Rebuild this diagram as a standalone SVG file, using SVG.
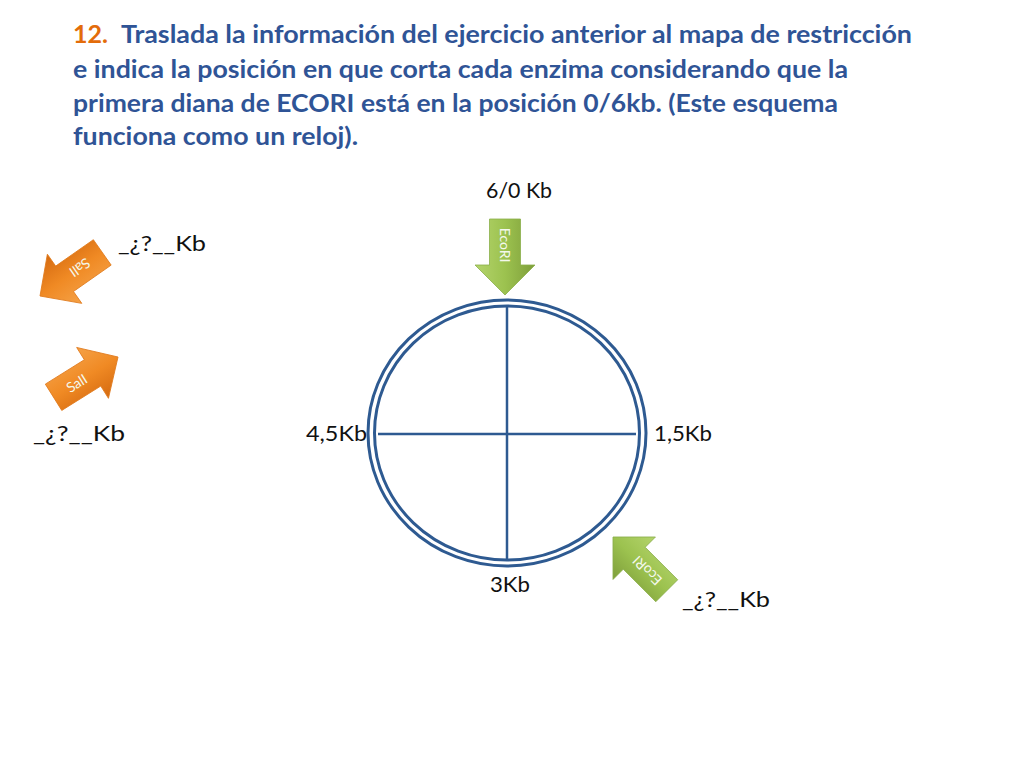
<svg xmlns="http://www.w3.org/2000/svg" width="1024" height="768" viewBox="0 0 1024 768">
<style>
.title{font-family:Lato,"Liberation Sans",sans-serif;font-weight:bold;font-size:25px;fill:#2F5496}
.num{fill:#E36C0A}
.lbl{font-family:Lato,"Open Sans","Liberation Sans",sans-serif;font-size:22px;fill:#111}
.atxt{font-family:Lato,"Liberation Sans",sans-serif;font-size:14px;fill:#F4F8EC;text-anchor:middle;dominant-baseline:central}
.ring{fill:none;stroke:#2E5A91;stroke-width:3}
.axis{stroke:#2E5A91;stroke-width:2.5}
</style>
<defs>
<linearGradient id="gGreen" x1="0" y1="0" x2="0" y2="1">
<stop offset="0" stop-color="#7E9E3A"/>
<stop offset="0.5" stop-color="#9CC24F"/>
<stop offset="1" stop-color="#B4D46C"/>
</linearGradient>
<linearGradient id="gOrange" x1="0" y1="0" x2="0" y2="1">
<stop offset="0" stop-color="#F5A146"/>
<stop offset="0.5" stop-color="#F08A24"/>
<stop offset="1" stop-color="#D56A10"/>
</linearGradient>
<path id="arrow" d="M0,0 L-30,-30 L-30,-15.5 L-76,-15.5 L-76,15.5 L-30,15.5 L-30,30 Z"/>
</defs>
<rect width="1024" height="768" fill="#fff"/>

<g id="title">
<text class="title num" x="73" y="43" textLength="35" lengthAdjust="spacingAndGlyphs">12.</text>
<text class="title" x="121" y="43" textLength="791" lengthAdjust="spacingAndGlyphs">Traslada la información del ejercicio anterior al mapa de restricción</text>
<text class="title" x="73" y="78" textLength="775" lengthAdjust="spacingAndGlyphs">e indica la posición en que corta cada enzima considerando que la</text>
<text class="title" x="73" y="112" textLength="765" lengthAdjust="spacingAndGlyphs">primera diana de ECORI está en la posición 0/6kb. (Este esquema</text>
<text class="title" x="73" y="145" textLength="285" lengthAdjust="spacingAndGlyphs">funciona como un reloj).</text>
</g>

<g id="plasmid">
<ellipse class="ring" cx="507" cy="433" rx="139" ry="133"/>
<ellipse class="ring" cx="507" cy="433" rx="132.5" ry="127"/>
<line class="axis" x1="507" y1="306" x2="507" y2="560"/>
<line class="axis" x1="378" y1="434" x2="636" y2="434"/>
</g>

<g id="labels">
<text class="lbl" x="486" y="198" textLength="66" lengthAdjust="spacingAndGlyphs">6/0 Kb</text>
<text class="lbl" x="306" y="441" textLength="61" lengthAdjust="spacingAndGlyphs">4,5Kb</text>
<text class="lbl" x="654" y="441" textLength="58" lengthAdjust="spacingAndGlyphs">1,5Kb</text>
<text class="lbl" x="490" y="592" textLength="40" lengthAdjust="spacingAndGlyphs">3Kb</text>
<text class="lbl" x="118" y="251" textLength="88" lengthAdjust="spacingAndGlyphs">_¿?__Kb</text>
<text class="lbl" x="33" y="441" textLength="92" lengthAdjust="spacingAndGlyphs">_¿?__Kb</text>
<text class="lbl" x="682" y="607" textLength="88" lengthAdjust="spacingAndGlyphs">_¿?__Kb</text>
</g>

<g id="ecori-top" transform="translate(505,295) rotate(90)">
<use href="#arrow" fill="url(#gGreen)" stroke="#8AAE4A" stroke-width="0.8"/>
<text class="atxt" x="-50" y="0">EcoRI</text>
</g>

<g id="ecori-bottom" transform="translate(613,537) rotate(225)">
<use href="#arrow" fill="url(#gGreen)" stroke="#8AAE4A" stroke-width="0.8"/>
<text class="atxt" x="-48" y="0">EcoRI</text>
</g>

<g id="sali-top" transform="translate(40,296) rotate(145)">
<use href="#arrow" fill="url(#gOrange)" stroke="#E07B1E" stroke-width="0.8"/>
<text class="atxt" x="-49" y="0" fill="#FFF4E8">SalI</text>
</g>

<g id="sali-bottom" transform="translate(118,357) rotate(-32)">
<use href="#arrow" fill="url(#gOrange)" stroke="#E07B1E" stroke-width="0.8"/>
<text class="atxt" x="-49" y="0" fill="#FFF4E8">SalI</text>
</g>
</svg>
